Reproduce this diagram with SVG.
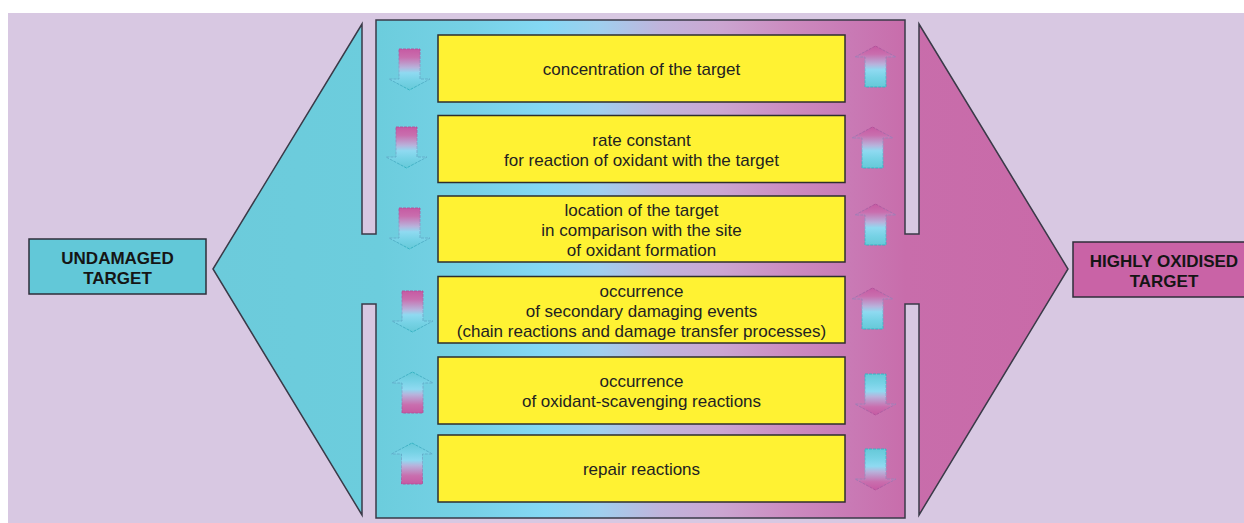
<svg xmlns="http://www.w3.org/2000/svg" width="1244" height="523" viewBox="0 0 1244 523">
  <style>
    .box { fill: #fff233; stroke: #2e2e2e; stroke-width: 1.5; }
    .txt { font-family: "Liberation Sans", Arial, sans-serif; font-size: 17px; fill: #222; text-anchor: middle; }
    .lbl { font-family: "Liberation Sans", Arial, sans-serif; font-size: 17px; font-weight: bold; fill: #151515; text-anchor: middle; }
    .lblbox { stroke: #2e2e3a; stroke-width: 1.5; }
    .arrP { fill: url(#gPinkTop); stroke: url(#sPinkTop); stroke-width: 0.9; stroke-dasharray: 3 1; }
    .arrC { fill: url(#gCyanTop); stroke: url(#sCyanTop); stroke-width: 0.9; stroke-dasharray: 3 1; }
  </style>
  <defs>
    <linearGradient id="gMain" gradientUnits="userSpaceOnUse" x1="213" y1="0" x2="1068" y2="0">
      <stop offset="0" stop-color="#6ccbdb"/>
      <stop offset="0.195" stop-color="#6ccddd"/>
      <stop offset="0.30" stop-color="#76d1e6"/>
      <stop offset="0.388" stop-color="#85d8f4"/>
      <stop offset="0.453" stop-color="#a0cfee"/>
      <stop offset="0.523" stop-color="#c0b4dc"/>
      <stop offset="0.593" stop-color="#cba6d1"/>
      <stop offset="0.675" stop-color="#cc8bc0"/>
      <stop offset="0.745" stop-color="#c97ab5"/>
      <stop offset="0.81" stop-color="#c86dab"/>
      <stop offset="1" stop-color="#c96aa8"/>
    </linearGradient>
    <linearGradient id="gPinkTop" x1="0" y1="0" x2="0" y2="1">
      <stop offset="0" stop-color="#c65aa2"/>
      <stop offset="0.2" stop-color="#c96eae"/>
      <stop offset="0.45" stop-color="#b7b3dc"/>
      <stop offset="0.58" stop-color="#8fdaf1"/>
      <stop offset="0.78" stop-color="#76d2e5"/>
      <stop offset="1" stop-color="#66c9d8"/>
    </linearGradient>
    <linearGradient id="gCyanTop" x1="0" y1="1" x2="0" y2="0">
      <stop offset="0" stop-color="#c65aa2"/>
      <stop offset="0.2" stop-color="#c96eae"/>
      <stop offset="0.45" stop-color="#b7b3dc"/>
      <stop offset="0.58" stop-color="#8fdaf1"/>
      <stop offset="0.78" stop-color="#76d2e5"/>
      <stop offset="1" stop-color="#66c9d8"/>
    </linearGradient>
    <linearGradient id="sPinkTop" x1="0" y1="0" x2="0" y2="1">
      <stop offset="0" stop-color="#b04e98"/>
      <stop offset="0.5" stop-color="#8aa8cf"/>
      <stop offset="1" stop-color="#2fb0c0"/>
    </linearGradient>
    <linearGradient id="sCyanTop" x1="0" y1="1" x2="0" y2="0">
      <stop offset="0" stop-color="#b04e98"/>
      <stop offset="0.5" stop-color="#8aa8cf"/>
      <stop offset="1" stop-color="#2fb0c0"/>
    </linearGradient>
    <path id="down" d="M-10.5,0 H10.5 V30 H20.5 L0,41 L-20.5,30 H-10.5 Z"/>
    <path id="up" d="M0,0 L20.5,11 H10.5 V41 H-10.5 V11 H-20.5 Z"/>
  </defs>

  <rect x="0" y="0" width="1244" height="523" fill="#ffffff"/>
  <rect x="8" y="13" width="1236" height="510" fill="#d8c8e2"/>

  <g id="frame">
    <path d="M213,269 L362,24 L362,234 L376,234 L376,20 L905,20 L905,234 L919,234 L919,24 L1068,269 L919,515 L919,304 L905,304 L905,518 L376,518 L376,304 L362,304 L362,515 Z" fill="url(#gMain)" stroke="#3a3a48" stroke-width="1.5" stroke-linejoin="miter"/>
  </g>

  <g id="undamaged">
    <rect class="lblbox" x="29" y="239" width="177" height="55" fill="#62c8d8"/>
    <text class="lbl" x="117.5" y="263.5">UNDAMAGED</text>
    <text class="lbl" x="117.5" y="284">TARGET</text>
  </g>

  <g id="oxidised">
    <rect class="lblbox" x="1073" y="242" width="185" height="55" fill="#c963a6"/>
    <text class="lbl" x="1164" y="267">HIGHLY OXIDISED</text>
    <text class="lbl" x="1164" y="286.5">TARGET</text>
  </g>

  <g id="factor1">
    <rect class="box" x="438" y="35" width="407" height="67"/>
    <text class="txt" x="641.5" y="75">concentration of the target</text>
  </g>
  <g id="factor2">
    <rect class="box" x="438" y="115.5" width="407" height="67"/>
    <text class="txt" x="641.5" y="146">rate constant</text>
    <text class="txt" x="641.5" y="166">for reaction of oxidant with the target</text>
  </g>
  <g id="factor3">
    <rect class="box" x="438" y="196" width="407" height="66"/>
    <text class="txt" x="641.5" y="216">location of the target</text>
    <text class="txt" x="641.5" y="236">in comparison with the site</text>
    <text class="txt" x="641.5" y="256">of oxidant formation</text>
  </g>
  <g id="factor4">
    <rect class="box" x="438" y="276.5" width="407" height="66.5"/>
    <text class="txt" x="641.5" y="297">occurrence</text>
    <text class="txt" x="641.5" y="317">of secondary damaging events</text>
    <text class="txt" x="641.5" y="337">(chain reactions and damage transfer processes)</text>
  </g>
  <g id="factor5">
    <rect class="box" x="438" y="357" width="407" height="67"/>
    <text class="txt" x="641.5" y="387">occurrence</text>
    <text class="txt" x="641.5" y="407">of oxidant-scavenging reactions</text>
  </g>
  <g id="factor6">
    <rect class="box" x="438" y="435" width="407" height="67"/>
    <text class="txt" x="641.5" y="475">repair reactions</text>
  </g>

  <g id="arrows">
    <use href="#down" class="arrP" transform="translate(409.5,49)"/>
    <use href="#down" class="arrP" transform="translate(406.5,127)"/>
    <use href="#down" class="arrP" transform="translate(409.5,208)"/>
    <use href="#down" class="arrP" transform="translate(412.5,291)"/>
    <use href="#up" class="arrC" transform="translate(412.5,372)"/>
    <use href="#up" class="arrC" transform="translate(412,443)"/>
    <use href="#up" class="arrP" transform="translate(875.5,46)"/>
    <use href="#up" class="arrP" transform="translate(872.5,127)"/>
    <use href="#up" class="arrP" transform="translate(875.5,204)"/>
    <use href="#up" class="arrP" transform="translate(872.5,288)"/>
    <use href="#down" class="arrC" transform="translate(875.5,374)"/>
    <use href="#down" class="arrC" transform="translate(875.5,449)"/>
  </g>
</svg>
